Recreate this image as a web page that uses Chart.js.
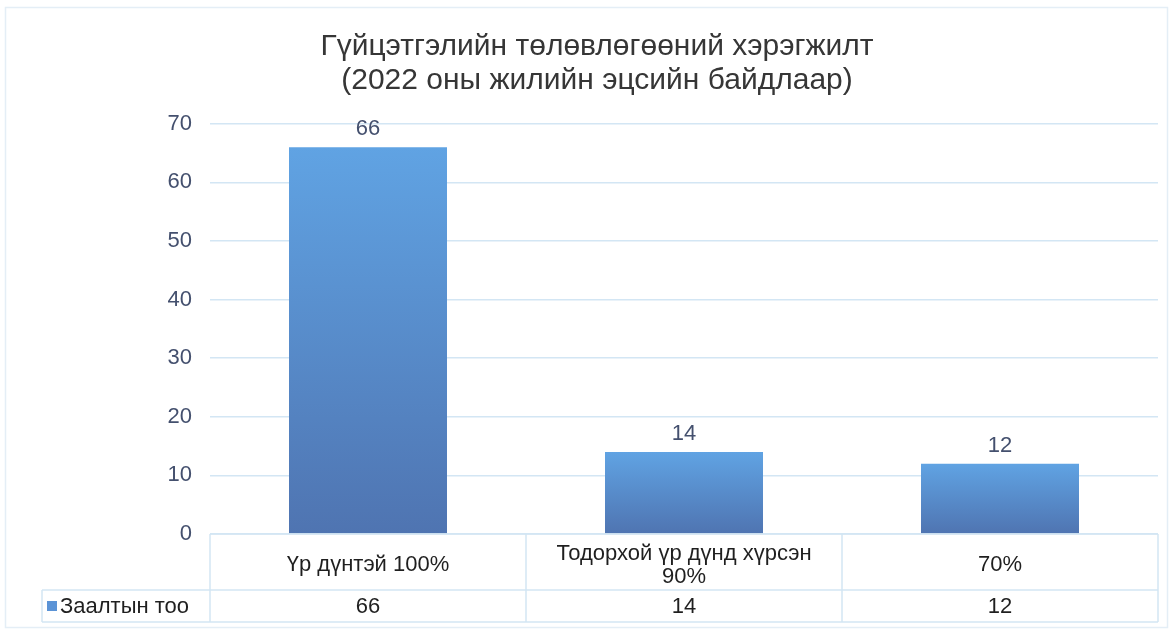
<!DOCTYPE html>
<html>
<head>
<meta charset="utf-8">
<script src="https://cdn.jsdelivr.net/npm/chart.js@4"></script>
<style>
  html, body { margin: 0; padding: 0; background: #fff; }
  #wrap { width: 1176px; height: 635px; position: relative; }
</style>
</head>
<body>
<div id="wrap"><canvas id="planChart"></canvas></div>
<script>
const titleLines = ['Гүйцэтгэлийн төлөвлөгөөний хэрэгжилт', '(2022 оны жилийн эцсийн байдлаар)'];
const categories = [['Үр дүнтэй 100%'], ['Тодорхой үр дүнд хүрсэн', '90%'], ['70%']];
const seriesName = 'Заалтын тоо';
const counts = [66, 14, 12];
const yMax = 70;
const yStep = 10;

const FONT = '"Liberation Sans", Arial, sans-serif';
const tickColor = '#44506e';
const lineColor = '#d3e6f4';

// per-bar vertical gradient, light on top, darker at the base
function barFill(c) {
  const chart = c.chart;
  if (!chart.chartArea || c.dataIndex === undefined) return '#5a8fd0';
  const y = chart.scales.y;
  const top = y.getPixelForValue(c.raw);
  const base = y.getPixelForValue(0);
  const g = chart.ctx.createLinearGradient(0, top, 0, base);
  g.addColorStop(0, '#60a3e3');
  g.addColorStop(1, '#4f74b1');
  return g;
}

const valueLabels = {
  id: 'valueLabels',
  afterDatasetsDraw(chart) {
    const ctx = chart.ctx;
    const meta = chart.getDatasetMeta(0);
    ctx.save();
    ctx.font = '22px ' + FONT;
    ctx.fillStyle = tickColor;
    ctx.textAlign = 'center';
    ctx.textBaseline = 'bottom';
    meta.data.forEach((bar, i) => {
      ctx.fillText(String(counts[i]), bar.x, bar.y - 7);
    });
    ctx.restore();
  }
};

const dataTable = {
  id: 'dataTable',
  afterDraw(chart) {
    const ctx = chart.ctx;
    const area = chart.chartArea;
    const n = categories.length;
    const colW = (area.right - area.left) / n;
    const r1 = area.bottom, r2 = area.bottom + 56, r3 = area.bottom + 88;
    const legendLeft = 42;

    ctx.save();
    // outer frame of the chart object
    ctx.strokeStyle = '#e4eef6';
    ctx.lineWidth = 1.5;
    ctx.strokeRect(5.5, 7.5, 1162, 620);

    ctx.strokeStyle = lineColor;
    ctx.lineWidth = 1.5;
    ctx.beginPath();
    ctx.moveTo(area.left, r1); ctx.lineTo(area.right, r1);
    ctx.moveTo(legendLeft, r2); ctx.lineTo(area.right, r2);
    ctx.moveTo(legendLeft, r3); ctx.lineTo(area.right, r3);
    ctx.moveTo(legendLeft, r2); ctx.lineTo(legendLeft, r3);
    for (let i = 0; i <= n; i++) {
      const x = area.left + i * colW;
      ctx.moveTo(x, r1); ctx.lineTo(x, r3);
    }
    ctx.stroke();

    ctx.fillStyle = '#1f1f1f';
    ctx.font = '22px ' + FONT;
    ctx.textAlign = 'center';
    ctx.textBaseline = 'middle';
    categories.forEach((lines, i) => {
      const cx = area.left + (i + 0.5) * colW;
      const mid = (r1 + r2) / 2 + 3;
      const lh = 23;
      lines.forEach((t, k) => {
        ctx.fillText(t, cx, mid + (k - (lines.length - 1) / 2) * lh);
      });
      ctx.fillText(String(counts[i]), cx, (r2 + r3) / 2 + 1);
    });

    // legend key in the first column
    ctx.fillStyle = '#5b93d6';
    ctx.fillRect(47, (r2 + r3) / 2 - 5, 10, 10);
    ctx.fillStyle = '#1f1f1f';
    ctx.textAlign = 'left';
    ctx.fillText(seriesName, 60, (r2 + r3) / 2 + 1);
    ctx.restore();
  }
};

new Chart(document.getElementById('planChart'), {
  type: 'bar',
  data: {
    labels: categories,
    datasets: [{
      label: seriesName,
      data: counts,
      backgroundColor: barFill,
      barPercentage: 0.5,
      categoryPercentage: 1
    }]
  },
  options: {
    responsive: true,
    maintainAspectRatio: false,
    animation: false,
    layout: { padding: { left: 36, right: 18, top: 0, bottom: 101 } },
    plugins: {
      legend: { display: false },
      tooltip: { enabled: false },
      title: {
        display: true,
        text: titleLines,
        color: '#363636',
        font: { family: FONT, size: 30, weight: 'normal', lineHeight: 1.13 },
        padding: { top: 30, bottom: 26 }
      }
    },
    scales: {
      x: { display: false },
      y: {
        min: 0,
        max: yMax,
        ticks: { stepSize: yStep, color: tickColor, padding: 18, font: { family: FONT, size: 22 } },
        grid: { color: lineColor, lineWidth: 1.5, tickLength: 0, drawTicks: false },
        border: { display: false },
        afterFit(scale) { scale.width = 174; }
      }
    }
  },
  plugins: [valueLabels, dataTable]
});
</script>
</body>
</html>
